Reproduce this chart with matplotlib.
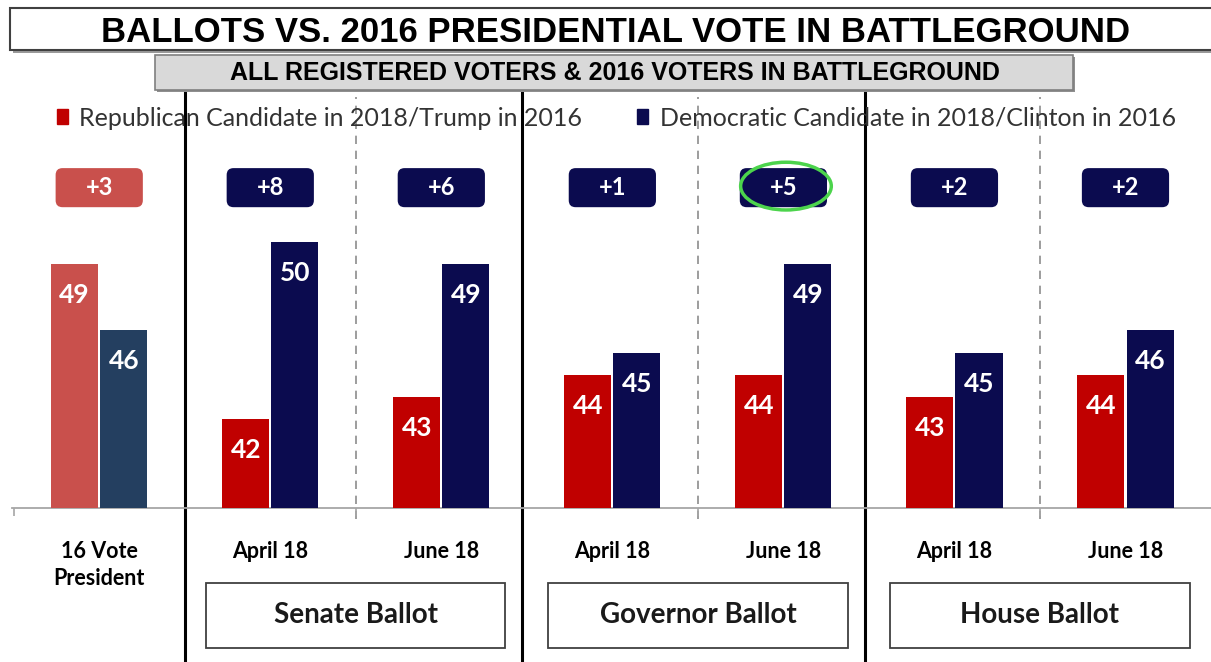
import numpy as np
import matplotlib.pyplot as plt
from matplotlib.patches import FancyBboxPatch, Ellipse, Rectangle, Patch

# data
cats = ['16 Vote\nPresident', 'April 18', 'June 18', 'April 18', 'June 18', 'April 18', 'June 18']
rep = [49, 42, 43, 44, 44, 43, 44]
dem = [46, 50, 49, 45, 49, 45, 46]
groups = ['Senate Ballot', 'Governor Ballot', 'House Ballot']
group_pos = [1.5, 3.5, 5.5]
highlight = 4  # margin circled in green

RED = '#c00000'
NAVY = '#0b0b4f'
RED16 = '#c9504c'
BLUE16 = '#243f60'

W, H = 1211, 662
fig = plt.figure(figsize=(W / 100, H / 100), dpi=100)
plt.rcParams['font.family'] = ['Lato', 'DejaVu Sans']

def fx(x):
    return x / W

def fy(y):
    return 1 - y / H

ax = fig.add_axes([fx(12), fy(508), 1 - fx(12), 508 / H])
x = np.arange(len(cats))
bw = 0.275
off = 0.1435
rc = [RED16] + [RED] * (len(cats) - 1)
dc = [BLUE16] + [NAVY] * (len(cats) - 1)
rb = ax.bar(x - off, rep, bw, color=rc, zorder=3)
db = ax.bar(x + off, dem, bw, color=dc, zorder=3)
ax.set_xlim(-0.51, 6.5)
ax.set_ylim(38, 38 + 508 / 22.2)

for xi, r, d in zip(x, rep, dem):
    ax.text(xi - off, r - 1.4, str(r), ha='center', va='center', color='white',
            fontsize=19, fontweight='bold', zorder=4)
    ax.text(xi + off, d - 1.4, str(d), ha='center', va='center', color='white',
            fontsize=19, fontweight='bold', zorder=4)
    # margin boxes
    fc = rc[xi] if r > d else dc[xi]
    bx = FancyBboxPatch((xi - 0.255, 51.55), 0.51, 1.76,
                        boxstyle='round,pad=0,rounding_size=0.04',
                        mutation_aspect=171 / 22.2, fc=fc, ec='none', zorder=3)
    ax.add_patch(bx)
    ax.text(xi, 52.45, '+%d' % abs(d - r), ha='center', va='center', color='white',
            fontsize=17, fontweight='bold', zorder=4)

ax.add_patch(Ellipse((highlight + 0.015, 52.5), 0.53, 2.15, fill=False,
                     ec='#4cd44c', lw=2.5, zorder=5))

# separators
for s in [0.5, 2.47, 4.48]:
    ax.plot([s, s], [31.0, 57.0], color='black', lw=2.2, clip_on=False, zorder=2)
for s in group_pos:
    ax.plot([s, s], [37.5, 56.5], color='#8c8c8c', lw=1.2, ls=(0, (5, 4)),
            clip_on=False, zorder=1)

for sp in ['top', 'right', 'left']:
    ax.spines[sp].set_visible(False)
ax.spines['bottom'].set_color('#a6a6a6')
ax.spines['bottom'].set_linewidth(1.3)
ax.set_yticks([])
ax.set_xticks(x, cats)
ax.tick_params(axis='x', length=0, pad=24, labelsize=15.5)
for t in ax.get_xticklabels():
    t.set_fontweight('bold')
    t.set_linespacing(1.35)
ax.set_xticks([-0.5] + group_pos, minor=True)
ax.tick_params(axis='x', which='minor', length=6, color='#a6a6a6', width=1.2)

# group label boxes
for g, gp in zip(groups, group_pos):
    ax.add_patch(Rectangle((gp - 0.875, 31.7), 1.75, 2.92, fill=True, fc='white',
                           ec='#404040', lw=1.3, clip_on=False, zorder=2))
    ax.text(gp, 33.16, g, ha='center', va='center', fontsize=20,
            fontweight='bold', color='#1a1a1a', clip_on=False)

# title boxes
fig.patches.append(Rectangle((fx(13), fy(53)), fx(1220) - fx(13), fy(11) - fy(53),
                             transform=fig.transFigure, fc='#9a9a9a', ec='none', zorder=0))
fig.patches.append(Rectangle((fx(10), fy(50)), fx(1220) - fx(10), fy(8) - fy(50),
                             transform=fig.transFigure, fc='white', ec='#404040', lw=1.5, zorder=1))
fig.text(fx(616), fy(32), 'BALLOTS VS. 2016 PRESIDENTIAL VOTE IN BATTLEGROUND',
         ha='center', va='center', fontsize=25, fontweight='bold',
         family=['Liberation Sans Narrow', 'Liberation Sans', 'DejaVu Sans'], zorder=2)
fig.patches.append(Rectangle((fx(157), fy(92)), fx(1075) - fx(157), fy(57) - fy(92),
                             transform=fig.transFigure, fc='#8f8f8f', ec='none', zorder=1))
fig.patches.append(Rectangle((fx(155), fy(90)), fx(1073) - fx(155), fy(55) - fy(90),
                             transform=fig.transFigure, fc='#d9d9d9', ec='#7f7f7f', lw=1.2, zorder=2))
fig.text(fx(615), fy(73), 'ALL REGISTERED VOTERS & 2016 VOTERS IN BATTLEGROUND',
         ha='center', va='center', fontsize=18, fontweight='bold',
         family=['Liberation Sans Narrow', 'Liberation Sans', 'DejaVu Sans'], zorder=3)

handles = [Patch(color=RED), Patch(color=NAVY)]
labels = ['Republican Candidate in 2018/Trump in 2016',
          'Democratic Candidate in 2018/Clinton in 2016']
fig.legend(handles, labels, loc='center left', bbox_to_anchor=(fx(34), fy(118)),
           ncol=2, frameon=False, fontsize=18, handlelength=0.45, handleheight=0.55,
           handletextpad=0.45, columnspacing=2.2, labelcolor='#333333')

fig.savefig('out.png', dpi=100)
